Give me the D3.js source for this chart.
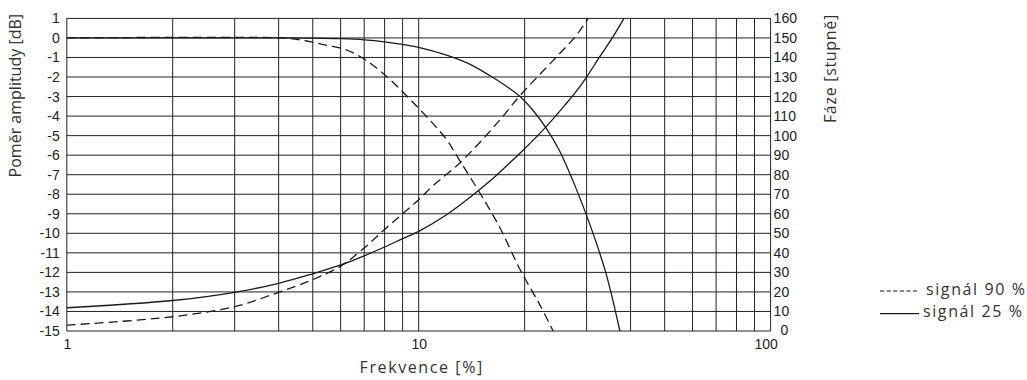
<!DOCTYPE html>
<html>
<head>
<meta charset="utf-8">
<script src="https://cdn.jsdelivr.net/npm/d3@7"></script>
<style>
  body { margin: 0; background: #fff; }
  .tick text { font-family: "Liberation Sans", Arial, sans-serif; font-size: 14px; fill: #222; }
  .title { font-family: "Open Sans", "Noto Sans", sans-serif; font-size: 16px; fill: #333; }
</style>
</head>
<body>
<div id="chart"></div>
<script>
// frequency [%] vs amplitude ratio [dB]
const amp90 = [[1, 0], [4.1, 0], [4.5, -0.07], [5, -0.22], [5.5, -0.38], [6.2, -0.6], [7, -1.08], [8, -1.88],
  [9, -2.75], [10, -3.6], [11, -4.4], [12, -5.2], [13, -6.2], [15, -8.0], [17, -9.7], [19.4, -11.85],
  [22, -13.6], [24.1, -15]];
const amp25 = [[1, 0], [4, 0], [5, -0.01], [6, -0.04], [7, -0.1], [8, -0.2], [9, -0.33], [10, -0.48],
  [12, -0.88], [14, -1.35], [16, -1.95], [18, -2.55], [19.4, -3.0], [21, -3.65], [23, -4.6], [25, -5.7],
  [28, -7.7], [31, -9.8], [34, -12], [37.3, -15]];
// frequency [%] vs phase [degrees]
const phase90 = [[1, 3], [2, 7.3], [3, 12.5], [4, 19.8], [5, 26.3], [6, 33.2], [7, 42.5], [8, 52], [9, 60],
  [10, 67.2], [11, 74.5], [13, 85.5], [15, 97], [17, 108], [19.3, 120], [22, 131], [25, 141.5],
  [28.1, 151.5], [30.3, 160]];
const phase25 = [[1, 11.9], [2, 15.6], [3, 19.8], [4, 24.4], [5, 29.3], [6, 33.8], [7, 38.5], [8, 43],
  [9, 47.3], [10, 51], [12, 59.5], [14, 68.5], [16, 77], [18, 85.5], [19.4, 91], [23, 104.5], [26, 115.5],
  [28, 122.5], [30, 130], [32.7, 140.4], [35.5, 150], [38.3, 160]];

const dbTicks = d3.range(-15, 2);
const degTicks = d3.range(0, 161, 10);
const freqLabels = [1, 10, 100];
const legendItems = [
  { label: 'signál 90 %', dashed: true },
  { label: 'signál 25 %', dashed: false },
];

const W = 1027, H = 380;
const area = { left: 66.8, right: 770.6, top: 18.4, bottom: 331 };

const svg = d3.select('#chart').append('svg')
  .attr('width', W)
  .attr('height', H);

const x = d3.scaleLog().domain([1, 100]).range([area.left, area.right]);
const yDb = d3.scaleLinear().domain([-15, 1]).range([area.bottom, area.top]);
const yDeg = d3.scaleLinear().domain([0, 160]).range([area.bottom, area.top]);

// grid
const grid = svg.append('g').attr('stroke', '#222').attr('stroke-width', 1);
grid.selectAll('line.v')
  .data(x.ticks())
  .join('line')
  .attr('class', 'v')
  .attr('x1', (d) => x(d)).attr('x2', (d) => x(d))
  .attr('y1', area.top).attr('y2', area.bottom);
grid.selectAll('line.h')
  .data(dbTicks)
  .join('line')
  .attr('class', 'h')
  .attr('x1', area.left).attr('x2', area.right)
  .attr('y1', (d) => yDb(d)).attr('y2', (d) => yDb(d));

// axes (labels only), plain hyphen for negatives
const plain = (d) => `${d}`;
const left = svg.append('g')
  .attr('transform', `translate(${area.left},0)`)
  .call(d3.axisLeft(yDb).tickValues(dbTicks).tickFormat(plain).tickSize(0).tickPadding(7));
const right = svg.append('g')
  .attr('transform', `translate(${area.right},0)`)
  .call(d3.axisRight(yDeg).tickValues(degTicks).tickFormat(plain).tickSize(0).tickPadding(3));
const bottom = svg.append('g')
  .attr('transform', `translate(0,${area.bottom})`)
  .call(d3.axisBottom(x).tickValues(freqLabels).tickFormat(plain).tickSize(0).tickPadding(8));
[left, right, bottom].forEach((g) => g.select('.domain').remove());
right.selectAll('.tick text').filter((d) => d === 0).attr('dx', 7).attr('dy', '0.25em');
bottom.selectAll('.tick text').filter((d) => d === 100).attr('dx', -5);

// curves
svg.append('clipPath').attr('id', 'plot-clip')
  .append('rect')
  .attr('x', area.left).attr('y', area.top - 1)
  .attr('width', area.right - area.left).attr('height', area.bottom - area.top + 2);

const curve = d3.curveCatmullRom.alpha(0.5);
const lineDb = d3.line().x((d) => x(d[0])).y((d) => yDb(d[1])).curve(curve);
const lineDeg = d3.line().x((d) => x(d[0])).y((d) => yDeg(d[1])).curve(curve);

const curves = [
  { data: amp25, line: lineDb, dashed: false },
  { data: phase25, line: lineDeg, dashed: false },
  { data: amp90, line: lineDb, dashed: true },
  { data: phase90, line: lineDeg, dashed: true },
];

svg.append('g')
  .attr('clip-path', 'url(#plot-clip)')
  .selectAll('path')
  .data(curves)
  .join('path')
  .attr('d', (c) => c.line(c.data))
  .attr('fill', 'none')
  .attr('stroke', '#1a1a1a')
  .attr('stroke-width', 1.3)
  .attr('stroke-dasharray', (c) => (c.dashed ? '9,5' : null));

// axis titles
svg.append('text')
  .attr('class', 'title')
  .attr('transform', 'translate(20.5,14) rotate(-90)')
  .attr('text-anchor', 'end')
  .text('Poměr amplitudy [dB]');
svg.append('text')
  .attr('class', 'title')
  .attr('transform', 'translate(836,14) rotate(-90)')
  .attr('text-anchor', 'end')
  .style('letter-spacing', '0.7px')
  .text('Fáze [stupně]');
svg.append('text')
  .attr('class', 'title')
  .attr('x', (area.left + area.right) / 2 + 3)
  .attr('y', 372.5)
  .attr('text-anchor', 'middle')
  .style('letter-spacing', '1.6px')
  .text('Frekvence [%]');

// legend
const legend = svg.append('g').attr('transform', 'translate(880,291)');
const item = legend.selectAll('g')
  .data(legendItems)
  .join('g')
  .attr('transform', (d, i) => `translate(0,${i * 22.6})`);
item.append('line')
  .attr('x1', 0).attr('x2', 39)
  .attr('stroke', '#1a1a1a')
  .attr('stroke-width', 1.2)
  .attr('stroke-dasharray', (d) => (d.dashed ? '4.2,2.4' : null));
item.append('text')
  .attr('class', 'title')
  .attr('x', (d) => (d.dashed ? 46 : 43))
  .attr('y', 3.5)
  .style('letter-spacing', '1.6px')
  .text((d) => d.label);
</script>
</body>
</html>
